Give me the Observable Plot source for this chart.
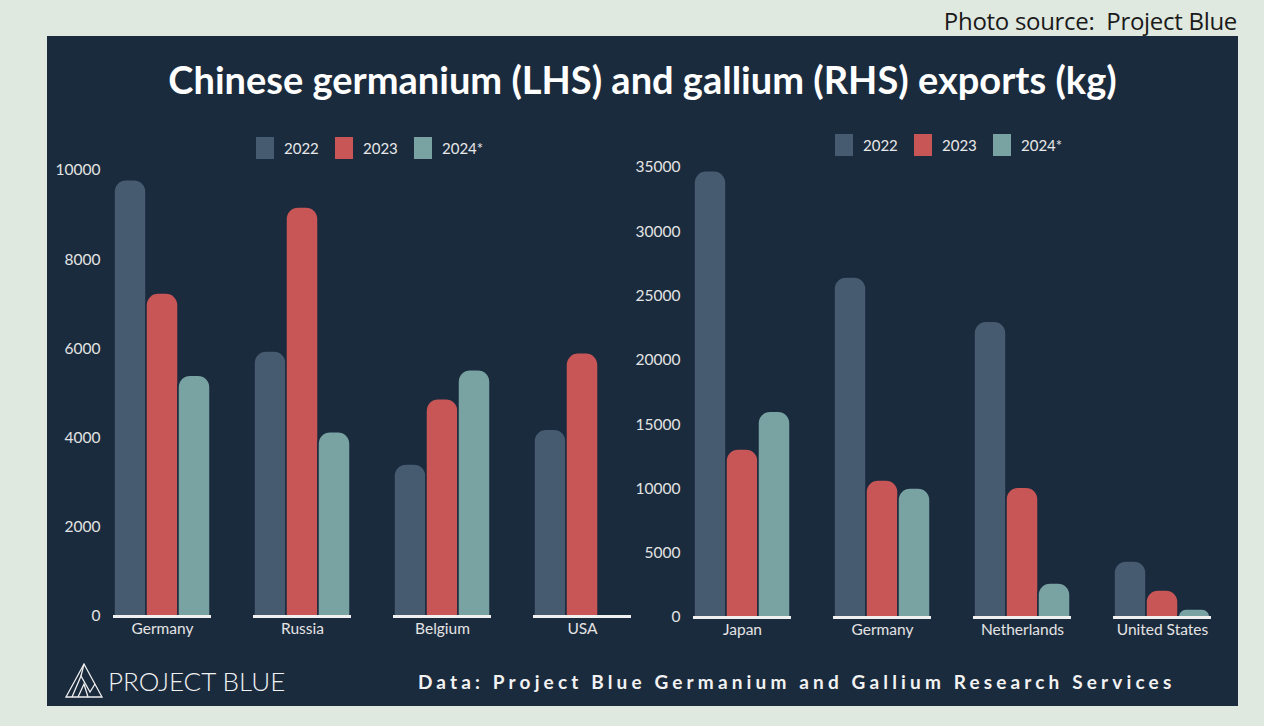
<!DOCTYPE html>
<html><head><meta charset="utf-8">
<script src="https://cdn.jsdelivr.net/npm/d3@7"></script>
<script src="https://cdn.jsdelivr.net/npm/@observablehq/plot@0.6"></script>
<style>
body{margin:0;background:#e0e9e0;width:1264px;height:726px;overflow:hidden;position:relative;font-family:Lato,sans-serif;}
.abs{position:absolute}
#src{right:27px;top:4px;font:24px "Open Sans",sans-serif;color:#1a1a1a;white-space:nowrap;letter-spacing:-0.3px}
#panel{left:47px;top:36px;width:1191px;height:670px;background:#1b2b3e}
#title{left:47px;width:1191px;top:56px;text-align:center;color:#fff;font:700 38px Lato,sans-serif;white-space:nowrap}
.legend{display:flex;align-items:center;color:#e8e8e8;font:15px Lato,sans-serif}
.legend .sw{width:18px;height:22px;margin-right:10px}
.legend .it{display:flex;align-items:center;width:79px}
#logo{left:64px;top:662px;display:flex;align-items:center;color:#f2f2f2;font:300 26px Lato,sans-serif;white-space:nowrap}
#data{left:418px;top:670px;color:#f2f2f2;font:700 19px Lato,sans-serif;letter-spacing:4.15px;white-space:nowrap}
</style></head>
<body>
<div id="src" class="abs">Photo source:&nbsp; Project Blue</div>
<div id="panel" class="abs"></div>
<div id="title" class="abs">Chinese germanium (LHS) and gallium (RHS) exports (kg)</div>
<div id="legL" class="abs legend" style="left:256px;top:137px"></div>
<div id="legR" class="abs legend" style="left:835px;top:134px"></div>
<div id="chartL" class="abs" style="left:40px;top:150px"></div>
<div id="chartR" class="abs" style="left:620px;top:150px"></div>
<div id="logo" class="abs"><svg width="40" height="38" viewBox="0 0 40 38" style="margin-right:4px"><g fill="none" stroke="#eee" stroke-width="1.3"><polygon points="20,2 38,35 2,35"/><polyline points="8,35 17,14 26,30 31,22"/><polyline points="14,35 20,22 24,35"/><line x1="17" y1="14" x2="20" y2="2"/></g></svg>PROJECT BLUE</div>
<div id="data" class="abs">Data: Project Blue Germanium and Gallium Research Services</div>
<script>
const years = ["2022", "2023", "2024*"];
const yearColors = ["#475b70", "#c85656", "#79a3a3"];

const geCountries = ["Germany", "Russia", "Belgium", "USA"];
const ge2022 = [9780, 5940, 3410, 4190];
const ge2023 = [7240, 9170, 4870, 5900];
const ge2024 = [5400, 4130, 5520, null];
const geTicks = [0, 2000, 4000, 6000, 8000, 10000];

const gaCountries = ["Japan", "Germany", "Netherlands", "United States"];
const ga2022 = [34700, 26450, 23000, 4350];
const ga2023 = [13070, 10650, 10100, 2100];
const ga2024 = [16000, 10030, 2650, 620];
const gaTicks = [0, 5000, 10000, 15000, 20000, 25000, 30000, 35000];

function legend(el) {
  years.forEach((y, i) => {
    const it = document.createElement("div"); it.className = "it";
    const sw = document.createElement("div"); sw.className = "sw"; sw.style.background = yearColors[i];
    const t = document.createElement("span"); t.textContent = y;
    it.appendChild(sw); it.appendChild(t); el.appendChild(it);
  });
}
legend(document.getElementById("legL"));
legend(document.getElementById("legR"));

function chart(countries, series, ticks, m) {
  const data = [];
  countries.forEach((c, i) => series.forEach((s, j) => {
    if (s[i] != null) data.push({country: c, year: years[j], value: s[i]});
  }));
  return Plot.plot({
    width: m.width, height: 500,
    marginLeft: m.left, marginRight: m.right, marginTop: m.top, marginBottom: m.bottom,
    style: {background: "transparent", color: "#e4e4e4", fontFamily: "Lato, sans-serif", fontSize: "15.5px"},
    fx: {domain: countries, paddingInner: 0.3, paddingOuter: 0, label: null, axis: "bottom", tickSize: 0, tickPadding: 6},
    x: {domain: years, axis: null, paddingInner: 0, paddingOuter: 0},
    y: {domain: [0, ticks[ticks.length - 1]], ticks: ticks, tickSize: 0, tickPadding: 13, label: null, tickFormat: "d"},
    color: {domain: years, range: yearColors},
    marks: [
      Plot.barY(data, {fx: "country", x: "year", y: "value", fill: "year", stroke: "#1b2b3e", strokeWidth: 1.5, inset: 0, ry1: 12}),
      Plot.ruleY([0], {stroke: "#f0f0f0", strokeWidth: 3})
    ]
  });
}

document.getElementById("chartL").appendChild(
  chart(geCountries, [ge2022, ge2023, ge2024], geTicks, {width: 600, left: 73, right: 9, top: 20, bottom: 34}));
document.getElementById("chartR").appendChild(
  chart(gaCountries, [ga2022, ga2023, ga2024], gaTicks, {width: 620, left: 73, right: 29, top: 17, bottom: 33}));
</script>
</body></html>
